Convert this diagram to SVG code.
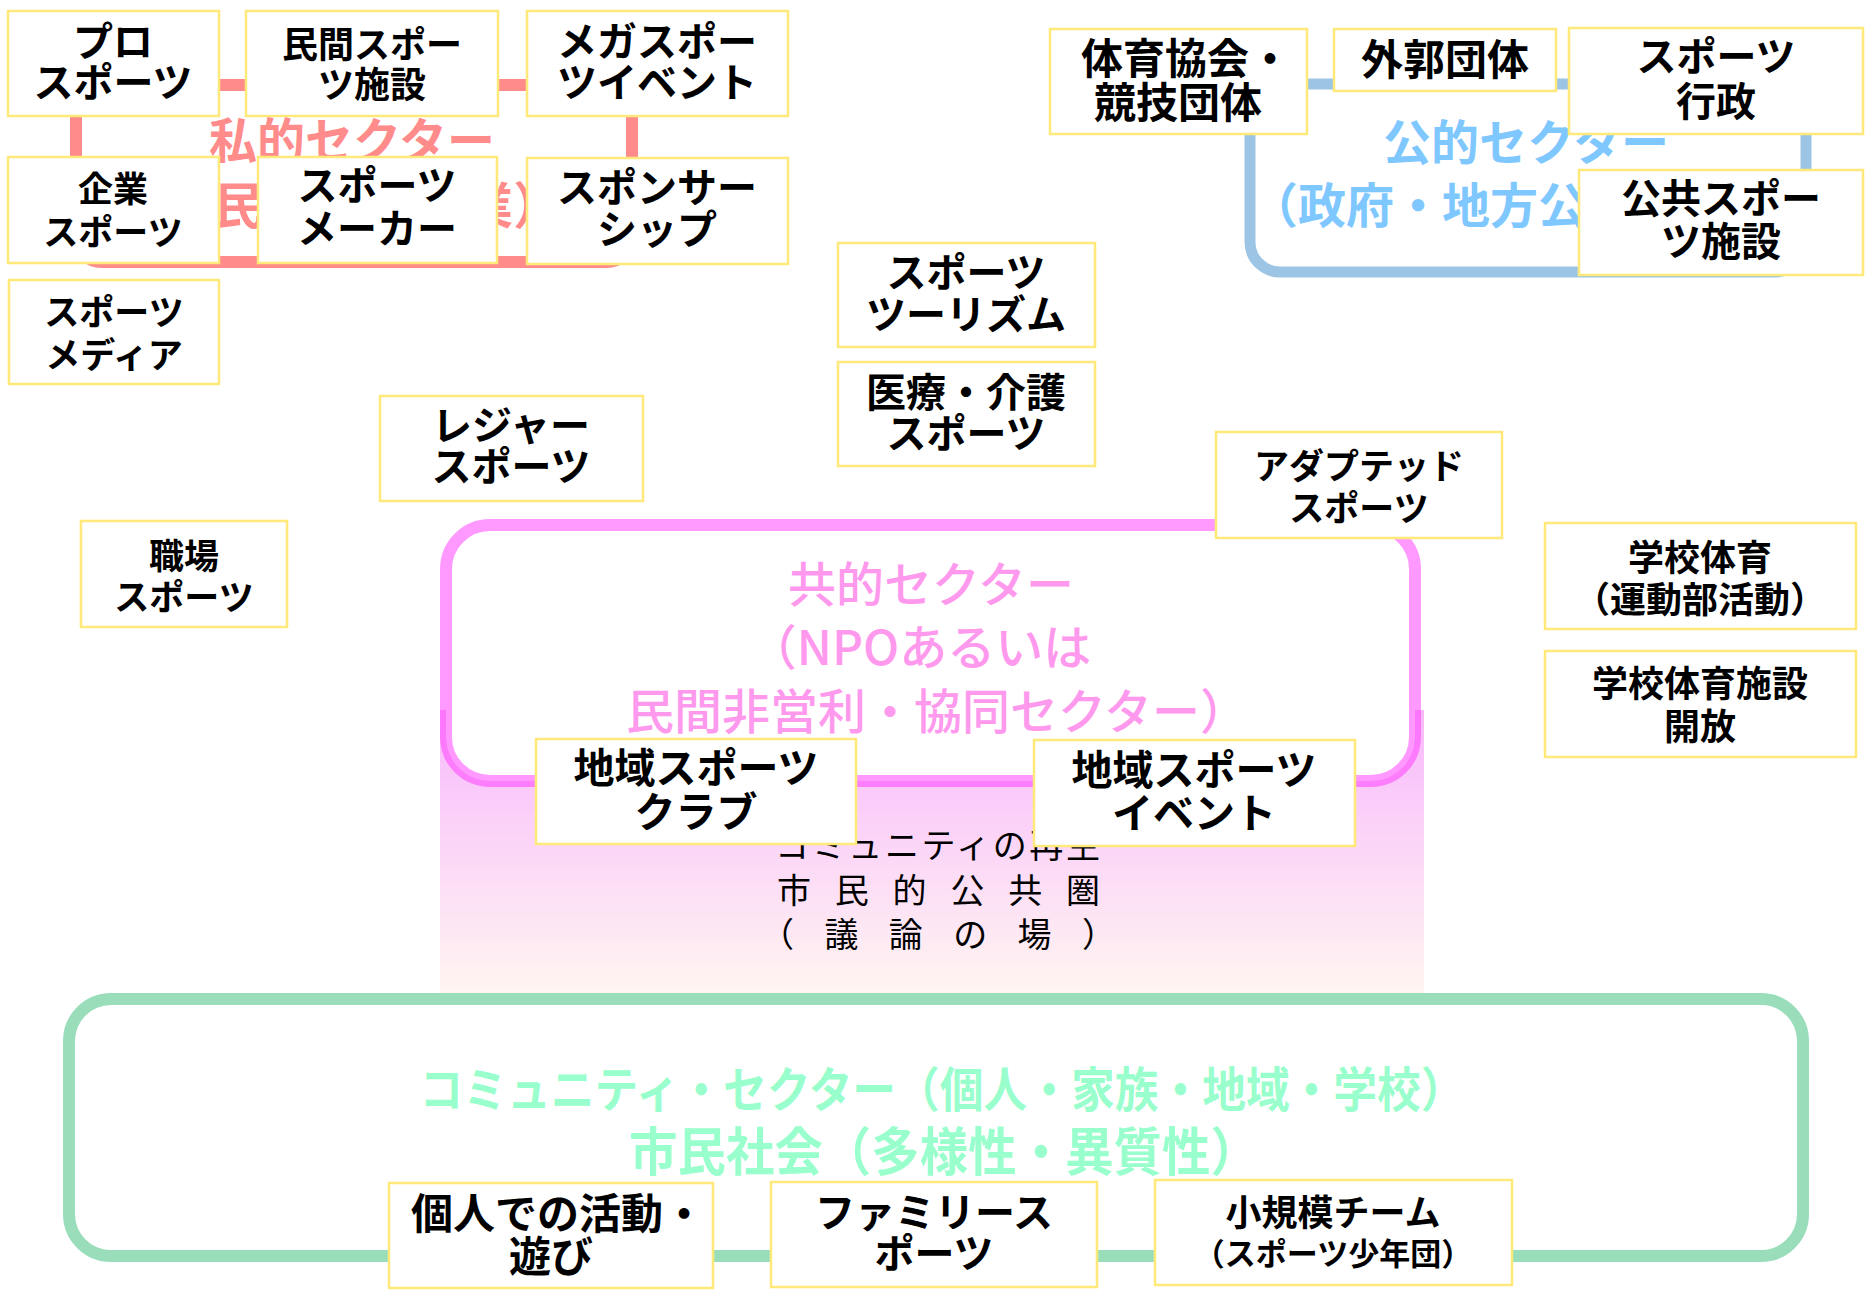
<svg xmlns="http://www.w3.org/2000/svg" width="1865" height="1296" viewBox="0 0 1865 1296">
<style>
.box{fill:#fff;stroke:#FFE97A;stroke-width:2.5}
.bt{font-family:"Noto Sans CJK JP","Noto Sans CJK SC",sans-serif;font-weight:700;fill:#000;text-anchor:middle;dominant-baseline:central;transform:translate(0px,-3px)}
.sec{font-family:"Noto Sans CJK JP","Noto Sans CJK SC",sans-serif;font-weight:700;dominant-baseline:central}
.com{font-family:"Noto Sans CJK JP","Noto Sans CJK SC",sans-serif;font-weight:400;fill:#000;font-size:34px;dominant-baseline:central}
</style>
<defs>
<linearGradient id="pubFill" x1="0" y1="0" x2="0" y2="1">
<stop offset="0" stop-color="#F8B8F8"/>
<stop offset="0.28" stop-color="#FACAFA"/>
<stop offset="1" stop-color="#FFF6F0"/>
</linearGradient>
</defs>
<rect width="1865" height="1296" fill="#fff"/>
<g id="sectors">
<g id="private-sector">
<rect x="76" y="85" width="556" height="177" rx="26" fill="#fff" stroke="#FF8B8B" stroke-width="12"/>
<text class="sec" x="209" y="137" font-size="48" fill="#FF8B8B">私的セクター</text>
<text class="sec" x="163" y="202" font-size="50" fill="#FF8B8B">（民間営利企業）</text>
</g>
<g id="public-sector">
<rect x="1250" y="84" width="556" height="188" rx="30" fill="#fff" stroke="#9CC4E4" stroke-width="11"/>
<text class="sec" x="1383" y="139" font-size="48" fill="#7FC8FF">公的セクター</text>
<text class="sec" x="1250" y="202" font-size="48" fill="#7FC8FF">（政府・地方公共団体）</text>
</g>
<g id="common-sector">
<rect x="440" y="710" width="984" height="288" fill="url(#pubFill)"/>
<rect x="446" y="525" width="969" height="256" rx="44" fill="#fff" stroke="#FF33FF" stroke-opacity="0.5" stroke-width="12"/>
<g font-family="'Noto Sans CJK JP',sans-serif" font-weight="500" font-size="48" fill="#FF99EE" text-anchor="middle" dominant-baseline="central">
<text x="931" y="581">共的セクター</text>
<text x="920" y="644">（NPOあるいは</text>
<text x="937" y="708">民間非営利・協同セクター）</text>
</g>
<text class="com" x="775" y="843" textLength="325" lengthAdjust="spacing">コミュニティの再生</text>
<text class="com" x="777" y="888" textLength="323" lengthAdjust="spacing">市民的公共圏</text>
<text class="com" x="760" y="932" textLength="356" lengthAdjust="spacing">（議論の場）</text>
</g>
<g id="community-sector">
<rect x="69" y="999" width="1734" height="257" rx="42" fill="#fff" stroke="#99DDBB" stroke-width="12"/>
<text class="sec" x="942" y="1086" font-size="48" fill="#99FFCC" text-anchor="middle" textLength="1045" lengthAdjust="spacingAndGlyphs">コミュニティ・セクター（個人・家族・地域・学校）</text>
<text class="sec" x="944" y="1148" font-size="52" fill="#99FFCC" text-anchor="middle" textLength="630" lengthAdjust="spacingAndGlyphs">市民社会（多様性・異質性）</text>
</g>
</g>
<g id="connectors"/>
<g id="nodes">
<g id="n-pro"><rect class="box" x="8" y="11" width="211" height="105"/><text class="bt" font-size="40"><tspan x="113" y="42">プロ</tspan><tspan x="113" y="83">スポーツ</tspan></text></g>
<g id="n-minkan"><rect class="box" x="246" y="11" width="252" height="105"/><text class="bt" font-size="36"><tspan x="372" y="45">民間スポー</tspan><tspan x="372" y="85">ツ施設</tspan></text></g>
<g id="n-mega"><rect class="box" x="527" y="11" width="261" height="105"/><text class="bt" font-size="40"><tspan x="657" y="42">メガスポー</tspan><tspan x="657" y="83">ツイベント</tspan></text></g>
<g id="n-kigyo"><rect class="box" x="8" y="157" width="211" height="106"/><text class="bt" font-size="35"><tspan x="113" y="189">企業</tspan><tspan x="113" y="232">スポーツ</tspan></text></g>
<g id="n-maker"><rect class="box" x="258" y="157" width="239" height="106"/><text class="bt" font-size="40"><tspan x="377" y="186">スポーツ</tspan><tspan x="377" y="229">メーカー</tspan></text></g>
<g id="n-sponsor"><rect class="box" x="527" y="158" width="261" height="106"/><text class="bt" font-size="40"><tspan x="657" y="188">スポンサー</tspan><tspan x="657" y="230">シップ</tspan></text></g>
<g id="n-media"><rect class="box" x="9" y="280" width="210" height="104"/><text class="bt" font-size="35"><tspan x="114" y="312">スポーツ</tspan><tspan x="114" y="355">メディア</tspan></text></g>
<g id="n-taiiku"><rect class="box" x="1050" y="29" width="257" height="105"/><text class="bt" font-size="42"><tspan x="1186" y="58">体育協会・</tspan><tspan x="1178" y="102">競技団体</tspan></text></g>
<g id="n-gaikaku"><rect class="box" x="1334" y="29" width="222" height="62"/><text class="bt" font-size="42" x="1445" y="59">外郭団体</text></g>
<g id="n-gyosei"><rect class="box" x="1569" y="28" width="294" height="106"/><text class="bt" font-size="40"><tspan x="1716" y="57">スポーツ</tspan><tspan x="1716" y="102">行政</tspan></text></g>
<g id="n-kokyo"><rect class="box" x="1579" y="170" width="284" height="105"/><text class="bt" font-size="40"><tspan x="1721" y="199">公共スポー</tspan><tspan x="1721" y="242">ツ施設</tspan></text></g>
<g id="n-tourism"><rect class="box" x="838" y="243" width="257" height="104"/><text class="bt" font-size="40"><tspan x="966" y="273">スポーツ</tspan><tspan x="966" y="315">ツーリズム</tspan></text></g>
<g id="n-iryo"><rect class="box" x="838" y="362" width="257" height="104"/><text class="bt" font-size="40"><tspan x="966" y="393">医療・介護</tspan><tspan x="966" y="434">スポーツ</tspan></text></g>
<g id="n-leisure"><rect class="box" x="380" y="396" width="263" height="105"/><text class="bt" font-size="40"><tspan x="511" y="426">レジャー</tspan><tspan x="511" y="467">スポーツ</tspan></text></g>
<g id="n-shokuba"><rect class="box" x="81" y="521" width="206" height="106"/><text class="bt" font-size="35"><tspan x="184" y="556">職場</tspan><tspan x="184" y="597">スポーツ</tspan></text></g>
<g id="n-adapted"><rect class="box" x="1216" y="432" width="286" height="106"/><text class="bt" font-size="35"><tspan x="1359" y="466">アダプテッド</tspan><tspan x="1359" y="508">スポーツ</tspan></text></g>
<g id="n-gakko"><rect class="box" x="1545" y="523" width="311" height="106"/><text class="bt" font-size="36"><tspan x="1700" y="558">学校体育</tspan><tspan x="1700" y="600">（運動部活動）</tspan></text></g>
<g id="n-gakko-shisetsu"><rect class="box" x="1545" y="651" width="311" height="106"/><text class="bt" font-size="36"><tspan x="1700" y="684">学校体育施設</tspan><tspan x="1700" y="727">開放</tspan></text></g>
<g id="n-chiiki-club"><rect class="box" x="536" y="739" width="320" height="105"/><text class="bt" font-size="41"><tspan x="696" y="768">地域スポーツ</tspan><tspan x="696" y="812">クラブ</tspan></text></g>
<g id="n-chiiki-event"><rect class="box" x="1034" y="740" width="321" height="106"/><text class="bt" font-size="41"><tspan x="1194" y="770">地域スポーツ</tspan><tspan x="1194" y="813">イベント</tspan></text></g>
<g id="n-kojin"><rect class="box" x="389" y="1183" width="324" height="105"/><text class="bt" font-size="42"><tspan x="558" y="1213">個人での活動・</tspan><tspan x="551" y="1256">遊び</tspan></text></g>
<g id="n-family"><rect class="box" x="771" y="1182" width="326" height="105"/><text class="bt" font-size="40"><tspan x="934" y="1213">ファミリース</tspan><tspan x="934" y="1254">ポーツ</tspan></text></g>
<g id="n-team"><rect class="box" x="1155" y="1180" width="357" height="105"/><text class="bt"><tspan x="1333" y="1213" font-size="36">小規模チーム</tspan><tspan x="1333" y="1254" font-size="31">（スポーツ少年団）</tspan></text></g>
</g>
</svg>
